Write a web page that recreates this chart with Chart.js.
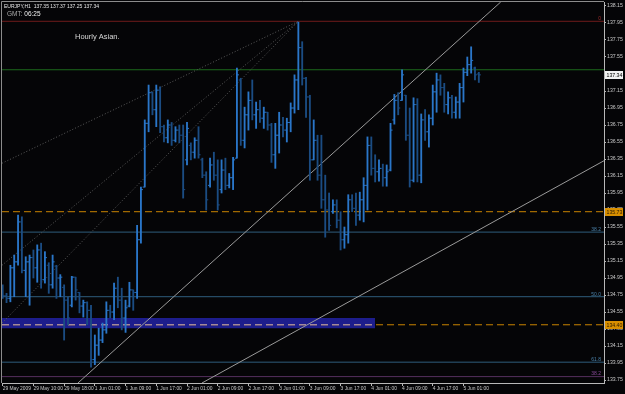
<!DOCTYPE html>
<html><head><meta charset="utf-8">
<script src="https://cdn.jsdelivr.net/npm/chart.js@4.4.0/dist/chart.umd.min.js"></script>
<style>html,body{margin:0;padding:0;background:#050507;}canvas{display:block;}</style>
</head><body>
<canvas id="c" width="625" height="394"></canvas>
<script>
// ---- DATA (EURJPY H1, bar index 0..124) ----
const opens = [134.81,134.74,134.71,135.07,135.14,135.61,135.04,135.14,135.19,135.07,135.28,134.93,135.10,134.87,135.09,134.95,134.84,134.69,134.63,134.96,134.78,134.62,134.66,134.57,133.99,134.16,134.22,134.34,134.57,134.55,134.83,134.69,134.48,134.62,134.81,134.78,135.40,136.02,136.77,137.13,136.93,137.16,136.73,136.60,136.75,136.57,136.69,136.63,136.34,136.51,136.43,136.57,136.34,136.16,136.04,136.28,136.16,135.99,136.22,136.04,136.13,136.36,137.28,136.57,136.87,137.04,136.87,136.93,136.83,136.90,136.75,136.40,136.63,136.75,136.69,136.78,136.95,137.28,137.66,137.30,137.08,136.34,136.57,136.16,135.87,135.75,135.73,135.81,135.63,135.40,135.46,135.87,135.77,135.69,135.87,136.04,136.51,136.24,136.20,136.24,136.13,136.22,136.81,137.04,137.04,137.10,136.63,136.10,136.99,136.16,136.81,136.67,136.83,137.14,137.28,137.19,136.99,137.07,136.90,137.02,137.19,137.37,137.46,137.42,137.35];
const highs = [134.87,134.77,135.10,135.22,135.69,135.67,135.20,135.22,135.28,135.34,135.36,135.26,135.13,135.22,135.10,134.99,134.87,134.73,134.97,134.96,134.78,134.69,134.67,134.63,134.28,134.36,134.42,134.67,134.63,134.89,134.96,134.83,134.69,134.90,134.81,135.57,136.02,136.81,137.22,137.14,137.22,137.20,136.75,136.81,136.78,136.73,136.75,136.75,136.78,136.54,136.60,136.73,136.36,136.20,136.36,136.43,136.34,136.34,136.36,136.18,136.37,137.42,137.30,136.96,137.14,137.28,137.02,137.04,136.96,136.90,136.77,136.77,136.90,136.84,136.83,137.01,137.34,137.96,137.73,137.31,137.10,136.81,136.63,136.63,136.16,135.95,135.87,135.87,135.73,135.55,135.93,135.93,135.95,135.96,136.13,136.61,136.61,136.40,136.34,136.29,136.28,136.77,137.11,137.13,137.40,137.10,136.95,137.07,137.06,136.88,136.93,136.87,137.22,137.36,137.34,137.24,137.14,137.10,137.08,137.24,137.42,137.55,137.67,137.43,137.37];
const lows = [134.71,134.66,134.67,134.73,135.10,135.01,134.73,134.63,134.95,134.90,134.83,134.89,134.77,134.83,134.71,134.73,134.22,134.40,134.61,134.69,134.54,134.49,134.40,133.90,133.93,134.04,134.19,134.30,134.48,134.46,134.60,134.34,134.31,134.61,134.57,134.71,135.36,136.02,136.67,136.87,136.73,136.66,136.55,136.54,136.51,136.55,136.54,135.89,136.28,136.34,136.36,136.36,136.13,135.75,136.02,136.10,135.75,135.95,135.99,136.01,135.99,136.36,136.51,136.48,136.69,136.81,136.71,136.78,136.71,136.69,136.31,136.24,136.42,136.61,136.55,136.67,136.89,136.93,137.22,136.84,136.10,136.34,136.10,135.77,135.43,135.51,135.71,135.54,135.28,135.30,135.36,135.73,135.57,135.63,135.61,135.75,136.16,136.08,136.09,136.03,136.03,136.21,136.76,136.87,137.04,136.57,136.02,136.08,136.08,136.07,136.57,136.49,136.75,136.90,137.10,136.90,136.88,136.83,136.83,136.83,137.02,137.33,137.36,137.28,137.25];
const closes = [134.74,134.71,135.07,135.14,135.61,135.04,135.14,135.19,135.07,135.28,134.93,135.19,134.87,135.14,134.95,134.96,134.69,134.48,134.96,134.81,134.62,134.66,134.57,133.99,134.16,134.22,134.34,134.57,134.55,134.83,134.69,134.48,134.60,134.81,134.78,135.40,135.99,136.77,137.13,136.93,137.16,136.73,136.60,136.75,136.57,136.69,136.63,135.99,136.71,136.43,136.57,136.40,136.16,135.87,136.28,136.16,135.81,136.22,136.04,136.13,136.34,137.34,136.57,136.87,137.04,136.87,136.93,136.83,136.90,136.75,136.40,136.63,136.75,136.69,136.78,136.95,137.28,137.66,137.30,137.08,136.34,136.57,136.16,135.87,135.75,135.57,135.81,135.63,135.40,135.46,135.87,135.77,135.69,135.87,136.04,136.51,136.24,136.20,136.24,136.13,136.20,136.69,137.04,136.95,137.34,136.63,136.10,136.99,136.16,136.81,136.67,136.83,137.14,137.28,137.19,136.99,137.07,136.90,137.02,137.19,137.37,137.46,137.51,137.34,137.34];

const xTickIndex = [0,8,16,24,32,40,48,56,64,72,80,88,96,104,112,120];
const xTickLabels = ["29 May 2009","29 May 10:00","29 May 18:00","1 Jun 01:00","1 Jun 09:00","1 Jun 17:00","2 Jun 01:00","2 Jun 09:00","2 Jun 17:00","3 Jun 01:00","3 Jun 09:00","3 Jun 17:00","4 Jun 01:00","4 Jun 09:00","4 Jun 17:00","5 Jun 01:00"];
const yTicks = [133.75,133.95,134.15,134.35,134.55,134.75,134.95,135.15,135.35,135.55,135.75,135.95,136.15,136.35,136.55,136.75,136.95,137.15,137.35,137.55,137.75,137.95,138.15];

// horizontal levels (price) and their labels
const levelValues = [137.97, 137.40, 135.49, 134.73, 133.96, 133.79];
const levelLabels = ["0", "", "38.2", "50.0", "61.8", "38.2"];
const dashedLevels = [135.73, 134.40];
const dashedLabels = ["135.73", "134.40"];
// fan lines converging at the peak: [startIndex, startPrice, endIndex, endPrice]
const fanLines = [[-0.18,136.30,77,137.97],[-0.18,135.10,77,137.97],[-0.18,134.42,77,137.97]];
// solid trend lines
const trendLines = [[19.6,133.715,129.7,138.197],[51.9,133.715,156.6,136.33]];
// support zone
const zoneLow = 134.36, zoneHigh = 134.48, zoneEndIndex = 97;

const symbolText = "EURJPY,H1  137.35 137.37 137.25 137.34";
const gmtLabel = "GMT:", gmtTime = "06:25";
const noteText = "Hourly Asian.";

// ---- STYLE / LAYOUT ----
const X_MIN = -0.18, X_MAX = 156.6, Y_MIN = 133.715, Y_MAX = 138.197;
const FONT = "'Liberation Sans',Arial,sans-serif";
const bull = '#2a76c8', bear = '#1b4c82';
const barColors = closes.map((c,i)=> c >= opens[i] ? bull : bear);
const levelColors = ['#701c1c','#1d6a1d','#2f5d7c','#2f5d7c','#2f5d7c','#55305f'];
const levelTextColors = ['#a02a2a','#2a8a2a','#4a80a8','#4a80a8','#4a80a8','#8a4a9a'];
Chart.defaults.font.family = FONT;

const seg = (x1,y1,x2,y2) => [{x:x1,y:y1},{x:x2,y:y2}];
const lineDs = (data, color, order, dash, width) => ({type:'line', data, borderColor: color, borderWidth: width||1, borderDash: dash||[], pointRadius:0, fill:false, tension:0, order});

const datasets = [];
datasets.push({type:'line', data: seg(X_MIN, zoneHigh, zoneEndIndex, zoneHigh), borderWidth:0, borderColor:'rgba(0,0,0,0)', backgroundColor:'#1d1d8c', fill:{value: zoneLow}, pointRadius:0, order:20});
levelValues.forEach((v,i)=> datasets.push(lineDs(seg(X_MIN,v,X_MAX,v), levelColors[i], 15)));
dashedLevels.forEach(v=> datasets.push(lineDs(seg(X_MIN,v,X_MAX,v), '#c98300', 14, [7,4])));
datasets.push(lineDs(seg(X_MIN,dashedLevels[1],zoneEndIndex,dashedLevels[1]), '#a898c8', 13, [7,4]));
fanLines.forEach(l=> datasets.push(lineDs(seg(l[0],l[1],l[2],l[3]), '#5a5a5a', 12, [1,2])));
trendLines.forEach(l=> datasets.push(lineDs(seg(l[0],l[1],l[2],l[3]), '#9a9a9a', 11)));
datasets.push({type:'bar', data: highs.map((h,i)=>({x:i, y:[lows[i], h]})), backgroundColor: barColors, borderWidth:0, barThickness:1.2, order:3});
datasets.push({type:'scatter', data: opens.map((o,i)=>({x:i-0.27, y:o})), pointStyle:'line', pointRadius:1, pointHoverRadius:1, pointBorderColor: barColors, pointBorderWidth:1, order:2});
datasets.push({type:'scatter', data: closes.map((c,i)=>({x:i+0.27, y:c})), pointStyle:'line', pointRadius:1, pointHoverRadius:1, pointBorderColor: barColors, pointBorderWidth:1, order:1});

const bg = {id:'bg', beforeDraw(chart){ const c=chart.ctx; c.save(); c.fillStyle='#050507'; c.fillRect(0,0,chart.width,chart.height); c.restore(); }};

const overlay = {id:'overlay', afterDraw(chart){
  const {ctx, chartArea:a, scales:{y}} = chart;
  ctx.save();
  ctx.strokeStyle='#8c8c8c'; ctx.lineWidth=1;
  ctx.beginPath(); ctx.moveTo(1.5, a.bottom); ctx.lineTo(1.5, 1.5); ctx.lineTo(a.right, 1.5); ctx.stroke();
  ctx.font = "5px " + FONT; ctx.textAlign='right'; ctx.textBaseline='bottom';
  levelValues.forEach((v,i)=>{ if(!levelLabels[i]) return; ctx.fillStyle = levelTextColors[i]; ctx.fillText(levelLabels[i], a.right-3, y.getPixelForValue(v)); });
  const box = (v, txt, bgc, fg) => {
    const py = Math.round(y.getPixelForValue(v));
    ctx.fillStyle = bgc; ctx.fillRect(a.right+1, py-4, 18, 8);
    ctx.fillStyle = fg; ctx.font = "5.2px " + FONT; ctx.textAlign='left'; ctx.textBaseline='middle';
    ctx.fillText(txt, a.right+2.5, py+0.5);
  };
  dashedLevels.forEach((v,i)=> box(v, dashedLabels[i], '#d88f00', '#2a1a00'));
  box(closes[closes.length-1], closes[closes.length-1].toFixed(2), '#f2f2f2', '#000');
  ctx.textAlign='left'; ctx.textBaseline='middle';
  ctx.font = "5px " + FONT; ctx.fillStyle='#e8e8e8'; ctx.fillText(symbolText, 4, 6.5);
  ctx.font = "6.5px " + FONT; ctx.fillStyle='#a8a8a8'; ctx.fillText(gmtLabel, 7, 14.5);
  const w = ctx.measureText(gmtLabel + ' ').width; ctx.fillStyle='#f0f0f0'; ctx.fillText(gmtTime, 7 + w, 14.5);
  ctx.font = "7.5px " + FONT; ctx.fillStyle='#d8d8d8'; ctx.fillText(noteText, 75, 36.5);
  ctx.restore();
}};

new Chart(document.getElementById('c'), {
  type: 'bar',
  data: { datasets },
  plugins: [bg, overlay],
  options: {
    responsive:false, animation:false, events:[],
    layout:{autoPadding:false, padding:{left:2, top:2, right:0, bottom:0}},
    plugins:{legend:{display:false}, tooltip:{enabled:false}},
    scales:{
      x:{type:'linear', min:X_MIN, max:X_MAX, offset:false,
        afterBuildTicks: s => { s.ticks = xTickIndex.map(v=>({value:v})); },
        afterFit: s => { s.height = 11; s.paddingLeft=0; s.paddingRight=0; },
        ticks:{autoSkip:false, maxRotation:0, minRotation:0, align:'start', padding:0, color:'#c8c8c8', font:{size:4.9}, callback:(v,i)=> xTickLabels[i]},
        grid:{drawOnChartArea:false, offset:false, tickLength:3, color:'#b8b8b8'},
        border:{color:'#b8b8b8'}},
      y:{type:'linear', position:'right', min:Y_MIN, max:Y_MAX,
        afterBuildTicks: s => { s.ticks = yTicks.map(v=>({value:v})); },
        afterFit: s => { s.width = 21; s.paddingTop=0; s.paddingBottom=0; },
        ticks:{autoSkip:false, padding:1, color:'#c8c8c8', font:{size:5.2}, callback:v=> Number(v).toFixed(2)},
        grid:{drawOnChartArea:false, tickLength:2, color:'#b8b8b8'},
        border:{color:'#b8b8b8'}}
    }
  }
});
</script>
</body></html>
